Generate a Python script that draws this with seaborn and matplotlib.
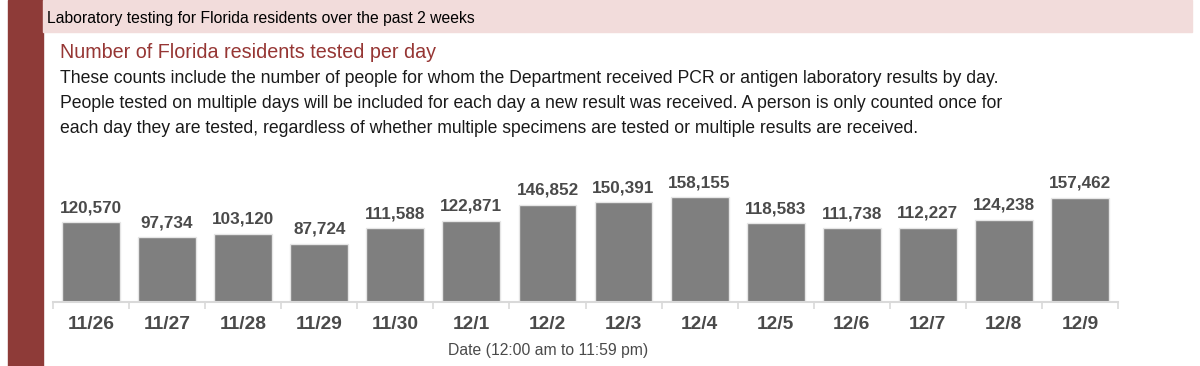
import numpy as np
import pandas as pd
import seaborn as sns
import matplotlib.pyplot as plt
from matplotlib.patches import Rectangle

# daily counts
dates = ["11/26", "11/27", "11/28", "11/29", "11/30", "12/1", "12/2",
         "12/3", "12/4", "12/5", "12/6", "12/7", "12/8", "12/9"]
tested = [120570, 97734, 103120, 87724, 111588, 122871, 146852,
          150391, 158155, 118583, 111738, 112227, 124238, 157462]

header = "Laboratory testing for Florida residents over the past 2 weeks"
subtitle = "Number of Florida residents tested per day"
body = [
    "These counts include the number of people for whom the Department received PCR or antigen laboratory results by day.",
    "People tested on multiple days will be included for each day a new result was received. A person is only counted once for",
    "each day they are tested, regardless of whether multiple specimens are tested or multiple results are received.",
]
xlabel = "Date (12:00 am to 11:59 pm)"

RED = "#8e3b38"
PINK = "#f2dcdb"
TITLE_RED = "#963634"
BAR = "#7f7f7f"
AXIS = "#d9d9d9"
LABEL = "#4a4a4a"

sns.set_style("white")
plt.rcParams["font.family"] = ["Liberation Sans", "DejaVu Sans"]

W, H = 1200, 366
fig = plt.figure(figsize=(W / 100, H / 100), dpi=100)


def fx(px):
    return px / W


def fy(py):
    return 1 - py / H


# page decoration: red side bar and pink header band
fig.patches.append(Rectangle((fx(8), 0), fx(35), 1, transform=fig.transFigure,
                             color=RED, zorder=0))
fig.patches.append(Rectangle((fx(43), fy(32)), fx(1192 - 43), 32 / H,
                             transform=fig.transFigure, color=PINK, zorder=0))

fig.text(fx(47), fy(23), header, fontsize=11.3, va="baseline", color="black")
fig.text(fx(60), fy(58), subtitle, fontsize=14.2, va="baseline", color=TITLE_RED)
for i, line in enumerate(body):
    fig.text(fx(60), fy(83 + 25 * i), line, fontsize=12.7, va="baseline", color="#1a1a1a")

# chart area
ax = fig.add_axes([fx(53), fy(302), fx(1118 - 53), (302 - 140) / H])
df = pd.DataFrame({"date": dates, "tested": tested})
sns.barplot(data=df, x="date", y="tested", color=BAR, saturation=1, width=0.76,
            edgecolor="#e6e6e6", linewidth=1, ax=ax)

ax.bar_label(ax.containers[0], labels=[f"{v:,}" for v in tested], padding=5,
             fontsize=12.3, fontweight="bold", color=LABEL)

ax.set_xlim(-0.5, len(dates) - 0.5)
ax.set_ylim(0, 162 * 1510)
ax.set_yticks([])
ax.set_xlabel("")
ax.set_ylabel("")
ax.set_xticks(np.arange(-0.5, len(dates), 1), minor=True)
ax.tick_params(axis="x", which="major", length=0, pad=10, labelsize=13.8, labelcolor=LABEL)
for lbl in ax.get_xticklabels():
    lbl.set_fontweight("bold")
ax.tick_params(axis="x", which="minor", length=5, width=1.2, color=AXIS, bottom=True)
for side in ["top", "right", "left"]:
    ax.spines[side].set_visible(False)
ax.spines["bottom"].set_color(AXIS)
ax.spines["bottom"].set_linewidth(1.5)
ax.patch.set_alpha(0)

fig.text(fx(548), fy(355), xlabel, fontsize=11.3, ha="center", va="baseline", color=LABEL)

fig.savefig("out.png", dpi=100)
